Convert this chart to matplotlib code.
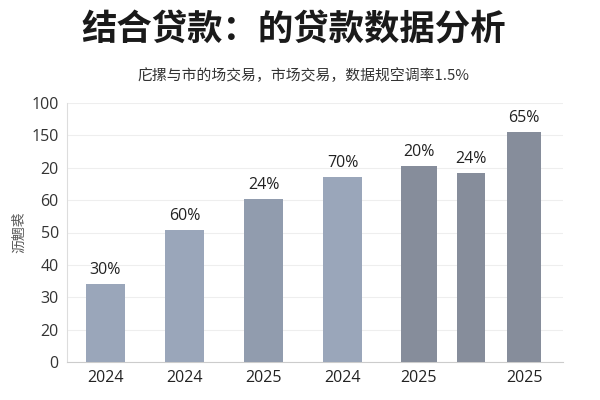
import matplotlib.pyplot as plt

plt.rcParams['font.family'] = ['Noto Sans CJK SC', 'DejaVu Sans']
num_font = ['Open Sans', 'Noto Sans CJK SC']

# 数据
x_labels = ['2024', '2024', '2025', '2024', '2025', '', '2025']
valores = [30.1, 50.9, 62.9, 71.4, 75.6, 72.9, 88.7]
rotulos = ['30%', '60%', '24%', '70%', '20%', '24%', '65%']
y_ticklabels = ['0', '20', '30', '40', '50', '60', '20', '150', '100']

# layout
posicoes = [0, 1, 2, 3, 3.96, 4.62, 5.29]
larguras = [0.49, 0.49, 0.49, 0.49, 0.45, 0.35, 0.44]
cores = ['#9aa6ba', '#9aa6ba', '#919cae', '#9aa6ba', '#868d9b', '#868d9b', '#868d9b']

fig = plt.figure(figsize=(6, 4), dpi=100)
ax = fig.add_axes([0.112, 0.095, 0.826, 0.6475])

ax.bar(posicoes, valores, width=larguras, color=cores, zorder=3)
for x, v, r in zip(posicoes, valores, rotulos):
    ax.text(x, v + 2.5, r, ha='center', va='bottom', fontsize=11.5, color='#222222',
            family=num_font)

ax.set_xlim(-0.48, 5.78)
ax.set_ylim(0, 100)
ax.set_yticks([i * 12.5 for i in range(9)])
ax.set_yticklabels(y_ticklabels, fontsize=11.5, color='#333333', family=num_font)
ax.set_xticks(posicoes)
ax.set_xticklabels(x_labels, fontsize=11.5, color='#222222', family=num_font)
ax.tick_params(length=0, pad=6)
ax.grid(axis='y', color='#eeeeee', linewidth=0.8, zorder=0)
for lado in ['top', 'right']:
    ax.spines[lado].set_visible(False)
ax.spines['left'].set_color('#dddddd')
ax.spines['bottom'].set_color('#cccccc')

ax.set_ylabel('沥魍裘', fontsize=10, color='#555555', labelpad=4)

fig.text(0.49, 0.925, '结合贷款：的贷款数据分析', ha='center', va='center',
         fontsize=25.5, fontweight='bold', color='#1a1a1a')
fig.text(0.505, 0.81, '庀摞与市的场交易，市场交易，数据规空调率1.5%', ha='center', va='center',
         fontsize=10.7, color='#333333')

plt.savefig('out.png')
